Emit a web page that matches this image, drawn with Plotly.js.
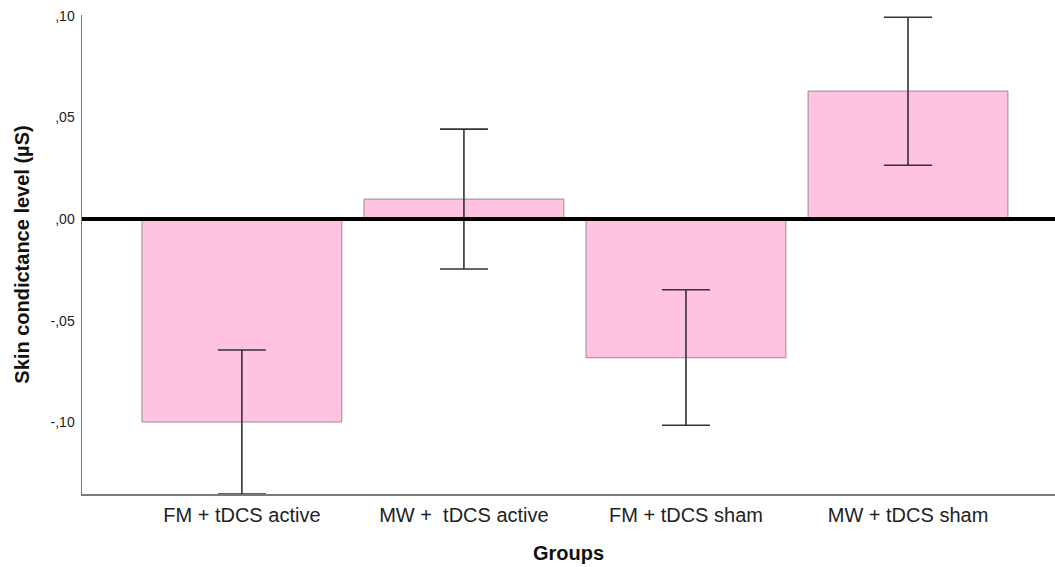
<!DOCTYPE html>
<html>
<head>
<meta charset="utf-8">
<script src="https://cdn.plot.ly/plotly-3.0.1.min.js"></script>
<style>html,body{margin:0;padding:0;background:#fff;}#chart{width:1055px;height:567px;}</style>
</head>
<body>
<div id="chart"></div>
<script>
const categories = ["FM + tDCS active", "MW +\u00a0 tDCS active", "FM + tDCS sham", "MW + tDCS sham"];
const means = [-0.0998, 0.0098, -0.0682, 0.0629];
const ciUpper = [-0.0644, 0.0442, -0.0348, 0.0992];
const ciLower = [-0.1352, -0.0246, -0.1014, 0.0264];
const yTickVals = [0.10, 0.05, 0.00, -0.05, -0.10];
const yTickText = [",10", ",05", ",00", "-,05", "-,10"];

const errPlus = means.map((m, i) => ciUpper[i] - m);
const errMinus = means.map((m, i) => m - ciLower[i]);

const trace = {
  type: "bar",
  x: [0, 1, 2, 3],
  y: means,
  width: 0.9,
  marker: {color: "#FFC2E1", line: {color: "#9a8a94", width: 1}},
  error_y: {type: "data", symmetric: false, array: errPlus, arrayminus: errMinus,
            color: "#333333", thickness: 1.6, width: 24},
  hoverinfo: "skip"
};

const layout = {
  width: 1055, height: 567,
  margin: {l: 82, r: 0, t: 15, b: 73},
  paper_bgcolor: "#fff", plot_bgcolor: "#fff",
  showlegend: false,
  font: {family: "Liberation Sans, Arial, sans-serif", color: "#222"},
  xaxis: {
    range: [-0.72, 3.662],
    tickvals: [0, 1, 2, 3], ticktext: categories,
    tickfont: {size: 20, color: "#222"},
    showgrid: false, zeroline: false,
    showline: true, linecolor: "#7a7a7a", linewidth: 1.5,
    ticks: "", ticklabelstandoff: 2,
    title: {text: "<b>Groups</b>", font: {size: 20, color: "#111"}, standoff: 21}
  },
  yaxis: {
    range: [-0.1352, 0.1003],
    tickvals: yTickVals, ticktext: yTickText,
    tickfont: {size: 14, color: "#222"},
    showgrid: false, zeroline: false,
    showline: true, linecolor: "#7a7a7a", linewidth: 1.5,
    ticks: "", ticklabelstandoff: 3,
    title: {text: "<b>Skin condictance level (µS)</b>", font: {size: 20, color: "#111"}, standoff: 15}
  },
  shapes: [{type: "line", xref: "paper", yref: "y", x0: 0, x1: 1, y0: 0, y1: 0,
            line: {color: "#000", width: 4}, layer: "above"}]
};

Plotly.newPlot("chart", [trace], layout, {displayModeBar: false, staticPlot: true});
</script>
</body>
</html>
